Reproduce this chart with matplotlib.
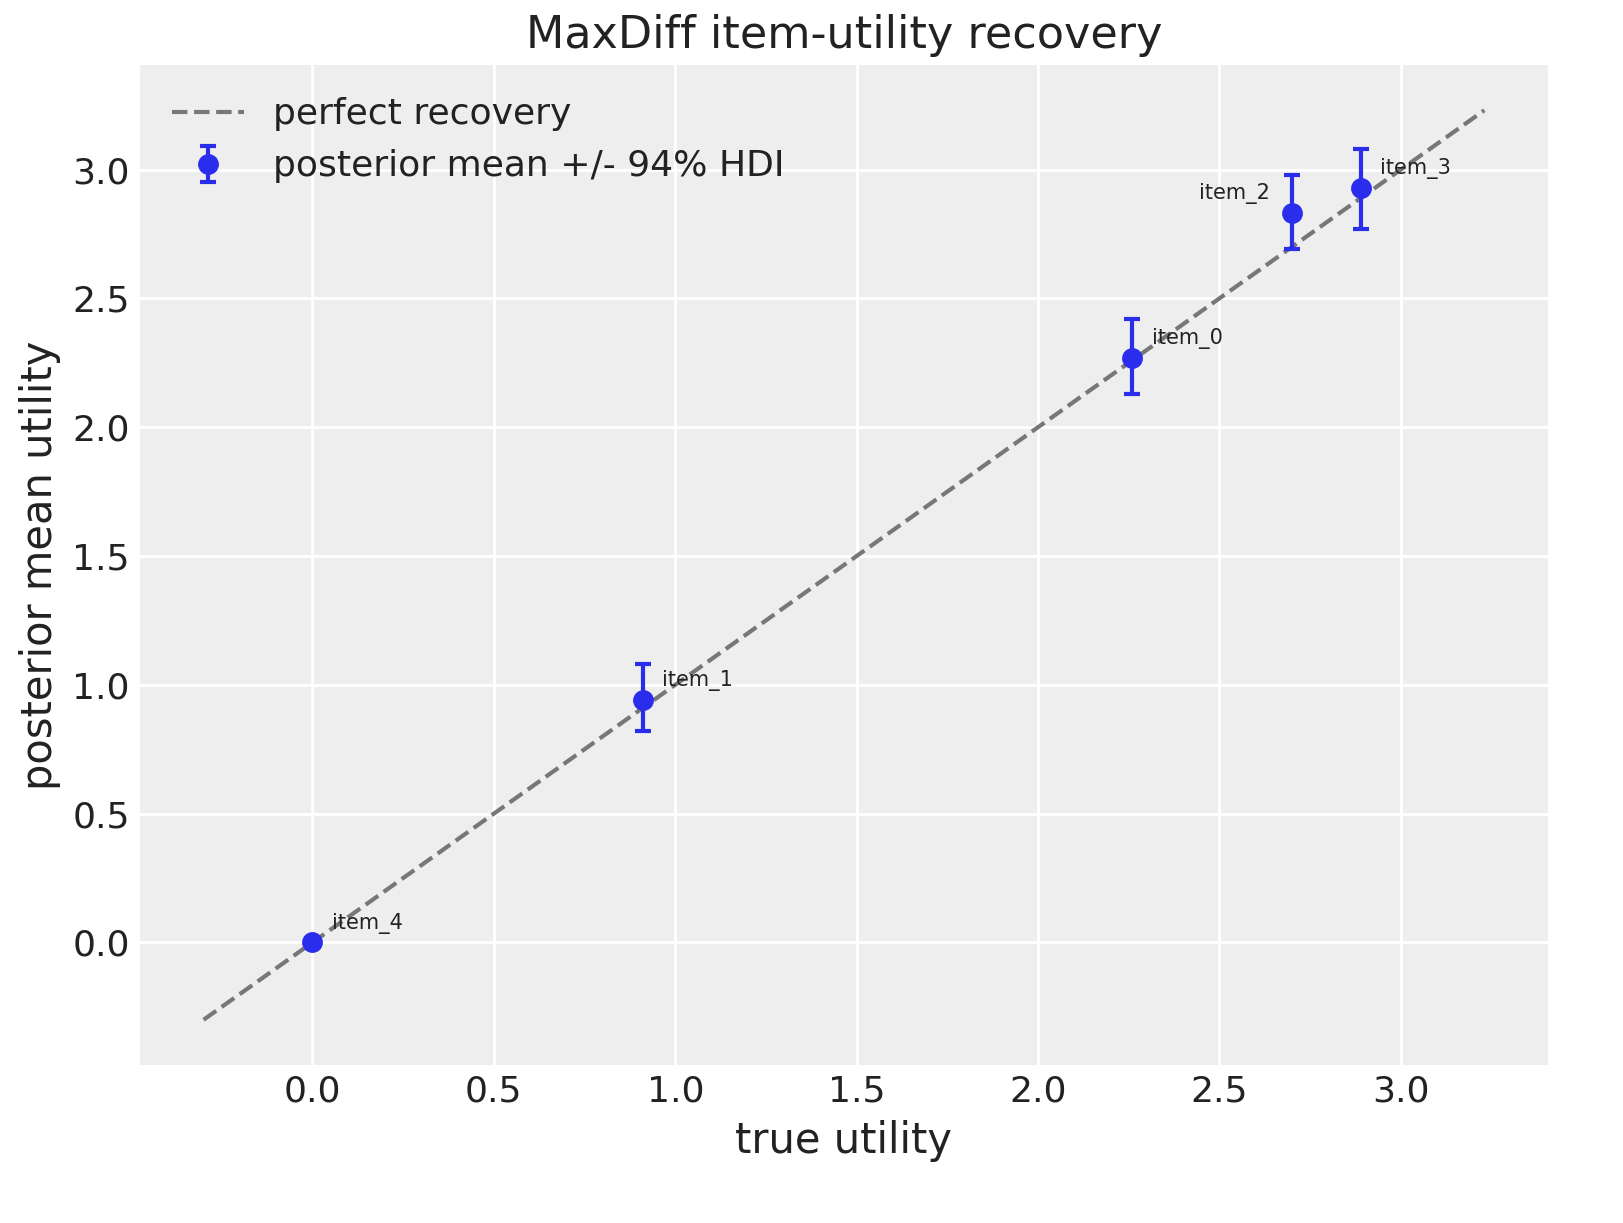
import numpy as np
import matplotlib.pyplot as plt

items = ['item_0', 'item_1', 'item_2', 'item_3', 'item_4']
true_u = [2.26, 0.91, 2.70, 2.89, 0.0]
post_mean = [2.27, 0.94, 2.83, 2.93, 0.0]
hdi_low = [2.13, 0.82, 2.69, 2.77, 0.0]
hdi_high = [2.42, 1.08, 2.98, 3.08, 0.0]

plt.rcParams.update({
    'axes.facecolor': '#eeeeee',
    'axes.edgecolor': 'none',
    'axes.grid': True,
    'grid.color': 'white',
    'grid.linewidth': 1.0,
    'axes.axisbelow': True,
    'text.color': '#222222',
    'axes.labelcolor': '#222222',
    'xtick.color': '#222222',
    'ytick.color': '#222222',
    'xtick.major.size': 0,
    'ytick.major.size': 0,
    'font.family': 'DejaVu Sans',
})

fig = plt.figure(figsize=(8.115, 6.115), dpi=200)
ax = fig.add_axes([0.086, 0.129, 0.868, 0.818])

# diagonal reference line
lo = -0.3
hi = 3.23
ax.plot([lo, hi], [lo, hi], '--', color='#777777', linewidth=1.5, label='perfect recovery')

pm = np.array(post_mean)
yerr = [pm - np.array(hdi_low), np.array(hdi_high) - pm]
ax.errorbar(true_u, post_mean, yerr=yerr, fmt='o', color='#2a2eec', markersize=6.5,
            capsize=3, elinewidth=1.5, capthick=1.5, label='posterior mean +/- 94% HDI')

for name, x, y in zip(items, true_u, post_mean):
    if name == 'item_2':
        ax.annotate(name, (x, y), xytext=(-8, 5), textcoords='offset points',
                    ha='right', fontsize=7.5)
    else:
        ax.annotate(name, (x, y), xytext=(7, 5), textcoords='offset points',
                    ha='left', fontsize=7.5)

ax.set_xticks(np.arange(0, 3.01, 0.5))
ax.set_yticks(np.arange(0, 3.01, 0.5))
ax.tick_params(labelsize=13)
ax.set_xlabel('true utility', fontsize=15)
ax.set_ylabel('posterior mean utility', fontsize=15)
ax.set_title('MaxDiff item-utility recovery', fontsize=16)
ax.legend(loc='upper left', fontsize=13, frameon=False)

plt.savefig('out.png', dpi=200)
plt.close()
